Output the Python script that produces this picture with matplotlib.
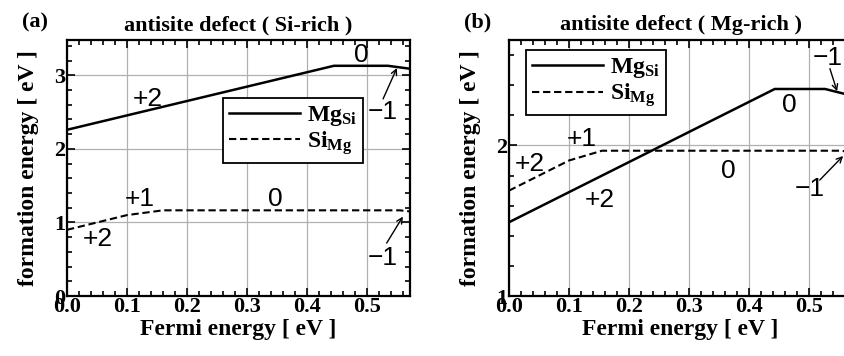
import matplotlib
matplotlib.use("Agg")
import matplotlib.pyplot as plt
from matplotlib.ticker import MultipleLocator

plt.rcParams["font.family"] = "Liberation Serif"
plt.rcParams["font.weight"] = "bold"
plt.rcParams["axes.titleweight"] = "bold"
plt.rcParams["axes.labelweight"] = "bold"
plt.rcParams["mathtext.fontset"] = "custom"
plt.rcParams["mathtext.rm"] = "Liberation Serif:bold"
plt.rcParams["mathtext.bf"] = "Liberation Serif:bold"

# (a) Si-rich
si_rich_mgsi_x = [0.0, 0.445, 0.535, 0.572]
si_rich_mgsi_y = [2.26, 3.13, 3.13, 3.09]
si_rich_simg_x = [0.0, 0.1, 0.16, 0.555, 0.572]
si_rich_simg_y = [0.90, 1.10, 1.165, 1.165, 1.15]

# (b) Mg-rich
mg_rich_mgsi_x = [0.0, 0.443, 0.527, 0.572]
mg_rich_mgsi_y = [1.49, 2.375, 2.375, 2.33]
mg_rich_simg_x = [0.0, 0.1, 0.155, 0.555, 0.572]
mg_rich_simg_y = [1.70, 1.90, 1.965, 1.965, 1.95]

legend_labels = [r"$\mathrm{Mg_{Si}}$", r"$\mathrm{Si_{Mg}}$"]

# charge-state labels: (text, x, y)
si_rich_labels = [("+2", 0.135, 2.68), ("0", 0.49, 3.27), ("\u22121", 0.527, 2.5),
                  ("+1", 0.122, 1.32), ("0", 0.347, 1.32), ("+2", 0.052, 0.77),
                  ("\u22121", 0.527, 0.52)]
si_rich_arrows = [((0.55, 3.1), (0.527, 2.68)), ((0.56, 1.08), (0.533, 0.72))]

mg_rich_labels = [("+1", 0.122, 2.04), ("+2", 0.035, 1.88), ("0", 0.365, 1.83),
                  ("0", 0.468, 2.27), ("+2", 0.152, 1.64), ("\u22121", 0.532, 2.58),
                  ("\u22121", 0.502, 1.71)]
mg_rich_arrows = [((0.547, 2.36), (0.535, 2.51)), ((0.557, 1.93), (0.518, 1.77))]


def draw(ax, mgsi_x, mgsi_y, simg_x, simg_y, labels, arrows, ylim, yticks,
         legend_pos, title, tag):
    ax.plot(mgsi_x, mgsi_y, color="black", lw=1.8, label=legend_labels[0])
    ax.plot(simg_x, simg_y, color="black", lw=1.5, ls=(0, (3.5, 1.8)),
            label=legend_labels[1])
    ax.set_xlim(0, 0.572)
    ax.set_ylim(*ylim)
    ax.set_xticks([0.0, 0.1, 0.2, 0.3, 0.4, 0.5])
    ax.set_yticks(yticks)
    ax.xaxis.set_minor_locator(MultipleLocator(0.02))
    ax.yaxis.set_minor_locator(MultipleLocator(0.2))
    ax.grid(True, which="major", color="#b0b0b0", lw=0.9)
    ax.tick_params(which="both", direction="in", top=True, right=True,
                   labelsize=16, width=1.2)
    ax.tick_params(which="major", length=6, pad=1)
    ax.tick_params(which="minor", length=3.5)
    for s in ax.spines.values():
        s.set_linewidth(1.6)
    ax.set_xlabel("Fermi energy [ eV ]", fontsize=17, labelpad=1)
    ax.set_ylabel("formation energy [ eV ]", fontsize=17, labelpad=11)
    ax.set_title(title, fontsize=16, pad=7)
    ax.text(-0.13, 1.03, tag, transform=ax.transAxes, fontsize=16,
            ha="left", va="bottom")
    for t, x, y in labels:
        ax.text(x, y, t, family="Liberation Sans", fontweight="normal",
                fontsize=19, ha="center", va="center")
    for tip, tail in arrows:
        ax.annotate("", xy=tip, xytext=tail,
                    arrowprops=dict(arrowstyle="->", lw=1.0, color="black",
                                    shrinkA=0, shrinkB=0))
    leg = ax.legend(loc="lower left", bbox_to_anchor=legend_pos, fontsize=17,
                    frameon=True, fancybox=False, edgecolor="black",
                    handlelength=3.0, borderpad=0.25, labelspacing=0.05,
                    handletextpad=0.3, borderaxespad=0)
    leg.get_frame().set_linewidth(1.3)
    leg.get_frame().set_alpha(1)


fig = plt.figure(figsize=(8.45, 3.56), dpi=100)
ax1 = fig.add_axes([0.0793, 0.1685, 0.406, 0.719])
ax2 = fig.add_axes([0.6024, 0.1685, 0.406, 0.719])

draw(ax1, si_rich_mgsi_x, si_rich_mgsi_y, si_rich_simg_x, si_rich_simg_y,
     si_rich_labels, si_rich_arrows, (0, 3.48), [0, 1, 2, 3], (0.455, 0.52),
     "antisite defect ( Si-rich )", "(a)")
draw(ax2, mg_rich_mgsi_x, mg_rich_mgsi_y, mg_rich_simg_x, mg_rich_simg_y,
     mg_rich_labels, mg_rich_arrows, (1, 2.7), [1, 2], (0.05, 0.707),
     "antisite defect ( Mg-rich )", "(b)")

fig.savefig("out.png", dpi=100)
